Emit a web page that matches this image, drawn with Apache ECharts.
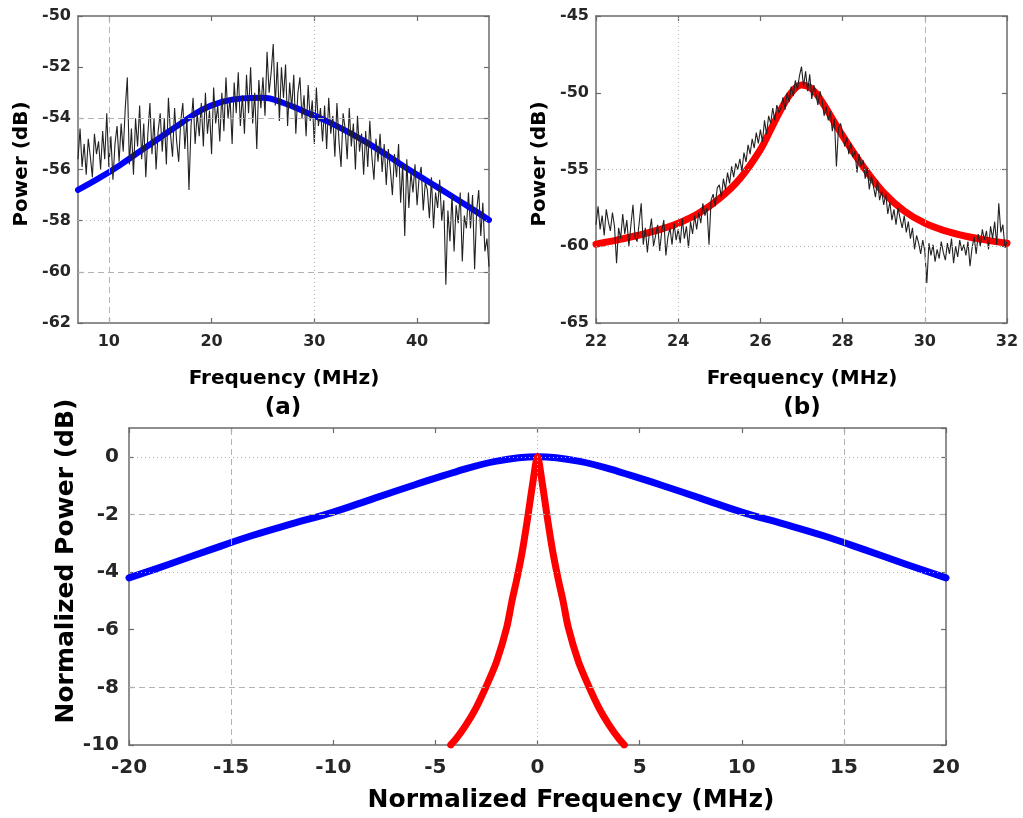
<!DOCTYPE html>
<html>
<head>
<meta charset="utf-8">
<script src="https://cdn.jsdelivr.net/npm/echarts@6/dist/echarts.min.js"></script>
<style>
  html, body { margin: 0; padding: 0; background: #ffffff; }
  #main { width: 1023px; height: 818px; }
</style>
</head>
<body>
<div id="main"></div>
<script>
// ---------- (a) broad line: measured spectrum and fit ----------
const A_START = 7, A_STEP = 0.2;
const aTrace = [
  -55.6,-54.4,-55.9,-55.0,-56.2,-54.8,-55.5,-56.3,-54.6,-55.4,
  -54.9,-56.0,-54.5,-55.6,-53.8,-55.9,-54.7,-56.4,-55.0,-54.3,
  -55.7,-54.2,-55.3,-53.6,-52.4,-55.8,-54.4,-56.2,-54.0,-55.1,
  -53.5,-55.6,-54.2,-56.3,-54.6,-53.4,-55.4,-54.0,-56.0,-54.5,
  -53.8,-55.3,-54.0,-55.8,-53.2,-54.6,-55.5,-53.6,-54.9,-55.7,
  -54.1,-53.4,-55.2,-54.0,-56.8,-54.3,-53.2,-55.0,-53.8,-54.7,
  -53.4,-55.1,-53.0,-54.6,-53.7,-55.4,-52.8,-54.2,-53.5,-54.9,
  -53.0,-54.5,-52.4,-54.0,-53.2,-55.0,-52.6,-53.8,-52.2,-54.3,
  -53.1,-54.6,-52.3,-53.8,-52.0,-54.2,-53.0,-55.2,-52.5,-53.6,
  -52.4,-53.9,-51.4,-53.0,-52.2,-51.1,-53.5,-51.8,-54.1,-52.0,
  -53.2,-51.9,-54.3,-52.6,-53.6,-52.3,-54.6,-53.0,-52.4,-54.0,
  -53.1,-54.7,-52.7,-54.1,-53.3,-55.0,-52.8,-54.3,-53.6,-54.9,
  -53.5,-55.2,-53.2,-54.6,-53.9,-55.5,-53.4,-54.9,-55.9,-53.8,
  -54.4,-55.6,-53.6,-55.1,-54.2,-56.0,-53.9,-55.3,-54.6,-56.2,
  -54.5,-55.9,-54.1,-55.5,-56.4,-54.8,-55.7,-54.6,-56.1,-55.0,
  -56.6,-55.2,-56.0,-57.0,-55.4,-56.3,-55.0,-57.3,-55.8,-58.6,
  -55.6,-57.5,-56.1,-56.9,-55.8,-57.4,-56.3,-55.9,-57.6,-56.5,
  -56.8,-57.9,-56.3,-58.3,-56.9,-57.5,-56.4,-58.0,-57.2,-60.5,
  -57.6,-58.8,-57.0,-59.2,-57.4,-58.1,-56.9,-59.6,-57.8,-58.3,
  -56.9,-58.3,-57.0,-59.9,-57.6,-56.8,-58.6,-57.3,-59.2,-58.7,
  -59.8
];
const aFitX = [7, 9, 11, 13, 15, 17, 19, 21, 23, 25, 27, 29, 31, 33, 35, 37, 39, 41, 43, 45, 47];
const aFitY = [-56.80,-56.35,-55.85,-55.30,-54.75,-54.20,-53.68,-53.36,-53.22,-53.20,-53.40,-53.73,
               -54.07,-54.47,-54.92,-55.42,-55.95,-56.45,-56.95,-57.45,-57.97];
const aXTicks = [10, 20, 30, 40];

// ---------- (b) narrow line: measured spectrum and fit ----------
const B_START = 22, B_STEP = 0.05;
const bTrace = [
  -58.6,-57.4,-58.9,-58.0,-59.3,-57.6,-58.4,-59.0,-57.8,-58.7,
  -61.1,-58.8,-59.5,-57.9,-59.2,-58.3,-60.0,-58.6,-57.3,-59.4,
  -59.7,-58.5,-57.2,-59.9,-58.8,-60.4,-59.1,-58.2,-60.0,-59.3,
  -58.6,-60.3,-59.0,-58.3,-60.6,-59.4,-58.8,-59.9,-58.5,-59.6,
  -58.9,-59.8,-58.2,-59.5,-58.7,-60.1,-58.4,-59.2,-58.0,-58.9,
  -57.8,-58.5,-57.2,-58.0,-57.5,-59.9,-57.0,-56.6,-57.4,-56.2,
  -56.0,-56.8,-55.6,-56.3,-55.2,-55.9,-54.8,-55.5,-54.6,-55.0,
  -54.3,-55.1,-53.9,-54.5,-53.4,-54.0,-53.0,-53.6,-52.6,-53.3,
  -52.4,-53.2,-51.8,-52.7,-51.5,-52.0,-51.0,-51.8,-50.8,-51.3,
  -51.0,-50.3,-51.1,-50.0,-50.6,-49.6,-50.2,-49.2,-49.8,-48.9,
  -48.3,-49.6,-48.6,-49.9,-48.8,-50.4,-49.5,-50.1,-50.8,-49.9,
  -50.5,-51.5,-50.9,-51.8,-51.2,-52.5,-51.7,-54.8,-52.3,-52.0,
  -52.6,-53.5,-52.9,-54.0,-53.3,-54.2,-53.8,-55.2,-54.0,-54.8,
  -54.4,-55.6,-54.9,-56.3,-55.4,-56.1,-56.8,-55.7,-57.0,-56.4,
  -57.3,-56.6,-57.9,-57.1,-58.3,-57.6,-58.6,-57.5,-58.2,-58.8,
  -58.0,-59.1,-58.4,-59.5,-58.8,-60.2,-59.3,-59.8,-60.5,-59.6,
  -60.3,-62.4,-59.8,-60.6,-59.9,-61.0,-60.2,-60.8,-59.7,-60.4,
  -60.9,-59.8,-60.5,-59.5,-61.1,-60.0,-60.7,-59.6,-60.3,-59.9,
  -60.6,-59.7,-61.3,-60.1,-59.4,-60.5,-59.2,-60.0,-58.9,-59.6,
  -59.0,-60.2,-58.7,-59.5,-58.4,-59.9,-57.2,-59.1,-58.6,-60.1,
  -59.7
];
const bFitX = [22, 22.5, 23, 23.5, 24, 24.5, 25, 25.5, 26, 26.25, 26.5, 26.75, 27, 27.25, 27.5, 27.75,
               28, 28.5, 29, 29.5, 30, 30.5, 31, 31.5, 32];
const bFitY = [-59.86,-59.6,-59.3,-58.95,-58.5,-57.85,-56.9,-55.6,-53.7,-52.4,-51.1,-50.0,-49.5,-49.75,
               -50.6,-51.7,-52.8,-54.8,-56.5,-57.7,-58.5,-59.0,-59.35,-59.6,-59.8];

// ---------- (c) both fits, normalized ----------
const cBlueX = [-20,-18,-16,-14,-12,-10,-8,-6,-4,-2,0,2,4,6,8,10,12,14,16,18,20];
const cBlueY = [-4.2,-3.72,-3.22,-2.74,-2.32,-1.92,-1.44,-0.97,-0.52,-0.15,0,
                -0.15,-0.52,-0.97,-1.44,-1.92,-2.32,-2.74,-3.22,-3.72,-4.2];
const cRedX = [-4.25,-4,-3.5,-3,-2.5,-2,-1.5,-1.25,-1,-0.75,-0.5,-0.25,0,
               0.25,0.5,0.75,1,1.25,1.5,2,2.5,3,3.5,4,4.25];
const cRedY = [-10,-9.8,-9.3,-8.7,-7.95,-7.1,-5.9,-5.0,-4.2,-3.3,-2.2,-1.0,0,
               -1.0,-2.2,-3.3,-4.2,-5.0,-5.9,-7.1,-7.95,-8.7,-9.3,-9.8,-10];

// ---------- helpers ----------
const FONT = 'DejaVu Sans';
const AXIS_COLOR = '#6b6b6b';
const GRID_COLOR = '#b2b2b2';
const DASH = [6, 4];
const DOT = [1, 3];

const zip = (xs, ys) => xs.map((x, i) => [x, ys[i]]);
const sampled = (start, step, vals) => vals.map((v, i) => [+(start + i * step).toFixed(3), v]);

function axis(gridIndex, position, range, showLabel, fontSize, margin, extra) {
  const a = {
    type: 'value',
    gridIndex: gridIndex,
    position: position,
    min: range[0],
    max: range[1],
    axisLine: { show: true, onZero: false, lineStyle: { color: AXIS_COLOR, width: 1.5 } },
    axisTick: { show: true, inside: true, length: 5, lineStyle: { color: AXIS_COLOR, width: 1.2 } },
    axisLabel: {
      show: showLabel, fontFamily: FONT, fontWeight: 'bold', fontSize: fontSize,
      color: '#262626', margin: margin
    },
    splitLine: { show: false }
  };
  if (range[2] !== undefined) a.interval = range[2];
  if (extra) {
    if (extra.ticks) {
      a.axisTick.customValues = extra.ticks;
      a.axisLabel.customValues = extra.ticks;
    }
    if (extra.hideMax) a.axisLabel.showMaxLabel = false;
  }
  return a;
}

function gridLines(xi, yi, lines) {
  return {
    type: 'line', xAxisIndex: xi, yAxisIndex: yi, data: [], z: 1, silent: true,
    markLine: {
      silent: true, symbol: 'none', animation: false,
      label: { show: false },
      data: lines.map(l => {
        const d = {};
        d[l[0]] = l[1];
        d.lineStyle = { type: l[2] === 'dash' ? DASH : DOT, color: GRID_COLOR, width: 1 };
        return d;
      })
    }
  };
}

function fit(xi, yi, data, color, width, smooth) {
  return {
    type: 'line', xAxisIndex: xi, yAxisIndex: yi, data: data, z: 2,
    showSymbol: false, symbol: 'none', smooth: smooth,
    lineStyle: { color: color, width: width, cap: 'round', join: 'round' }
  };
}

function trace(xi, yi, data) {
  return {
    type: 'line', xAxisIndex: xi, yAxisIndex: yi, data: data, z: 3,
    showSymbol: false, symbol: 'none',
    lineStyle: { color: '#222222', width: 1.1 }
  };
}

function title(text, x, y, size, vertical) {
  return {
    type: 'text', x: x, y: y, rotation: vertical ? Math.PI / 2 : 0, z: 10,
    style: {
      text: text, fill: '#000000', font: 'bold ' + size + 'px "' + FONT + '"',
      textAlign: 'center', textVerticalAlign: 'middle'
    }
  };
}

const aX = [7, 47], aY = [-62, -50, 2];
const bX = [22, 32, 2], bY = [-65, -45, 5];
const cX = [-20, 20, 5], cY = [-10, 1, 2];

const option = {
  animation: false,
  backgroundColor: '#ffffff',
  grid: [
    { left: 78, top: 16, width: 411, height: 307 },
    { left: 596, top: 16, width: 411, height: 307 },
    { left: 129, top: 428, width: 817, height: 317 }
  ],
  xAxis: [
    axis(0, 'bottom', aX, true, 16, 11, { ticks: aXTicks }),
    axis(0, 'top', aX, false, 16, 11, { ticks: aXTicks }),
    axis(1, 'bottom', bX, true, 16, 11),
    axis(1, 'top', bX, false, 16, 11),
    axis(2, 'bottom', cX, true, 20, 13),
    axis(2, 'top', cX, false, 20, 13)
  ],
  yAxis: [
    axis(0, 'left', aY, true, 16, 7),
    axis(0, 'right', aY, false, 16, 7),
    axis(1, 'left', bY, true, 16, 7),
    axis(1, 'right', bY, false, 16, 7),
    axis(2, 'left', cY, true, 20, 10, { hideMax: true }),
    axis(2, 'right', cY, false, 20, 10, { hideMax: true })
  ],
  series: [
    gridLines(0, 0, [['xAxis', 10, 'dash'], ['xAxis', 30, 'dot'],
                     ['yAxis', -54, 'dash'], ['yAxis', -58, 'dot'], ['yAxis', -60, 'dash']]),
    fit(0, 0, zip(aFitX, aFitY), '#0000ff', 6, 0.4),
    trace(0, 0, sampled(A_START, A_STEP, aTrace)),

    gridLines(2, 2, [['xAxis', 24, 'dot'], ['xAxis', 30, 'dash'],
                     ['yAxis', -55, 'dot'], ['yAxis', -60, 'dot']]),
    fit(2, 2, zip(bFitX, bFitY), '#ff0000', 7, 0.4),
    trace(2, 2, sampled(B_START, B_STEP, bTrace)),

    gridLines(4, 4, [['xAxis', -15, 'dash'], ['xAxis', 0, 'dot'], ['xAxis', 15, 'dash'],
                     ['yAxis', 0, 'dot'], ['yAxis', -2, 'dash'], ['yAxis', -4, 'dot'], ['yAxis', -8, 'dash']]),
    fit(4, 4, zip(cBlueX, cBlueY), '#0000ff', 7, 0.4),
    fit(4, 4, zip(cRedX, cRedY), '#ff0000', 7, 0.25)
  ],
  graphic: [
    title('Power (dB)', 22, 164, 20, true),
    title('Frequency (MHz)', 284, 379, 20, false),
    title('(a)', 283, 408, 23, false),
    title('Power (dB)', 540, 164, 20, true),
    title('Frequency (MHz)', 802, 379, 20, false),
    title('(b)', 802, 408, 23, false),
    title('Normalized Power (dB)', 66, 561, 25, true),
    title('Normalized Frequency (MHz)', 571, 800, 25, false)
  ]
};

const chart = echarts.init(document.getElementById('main'), null, { renderer: 'canvas' });
chart.setOption(option);
</script>
</body>
</html>
